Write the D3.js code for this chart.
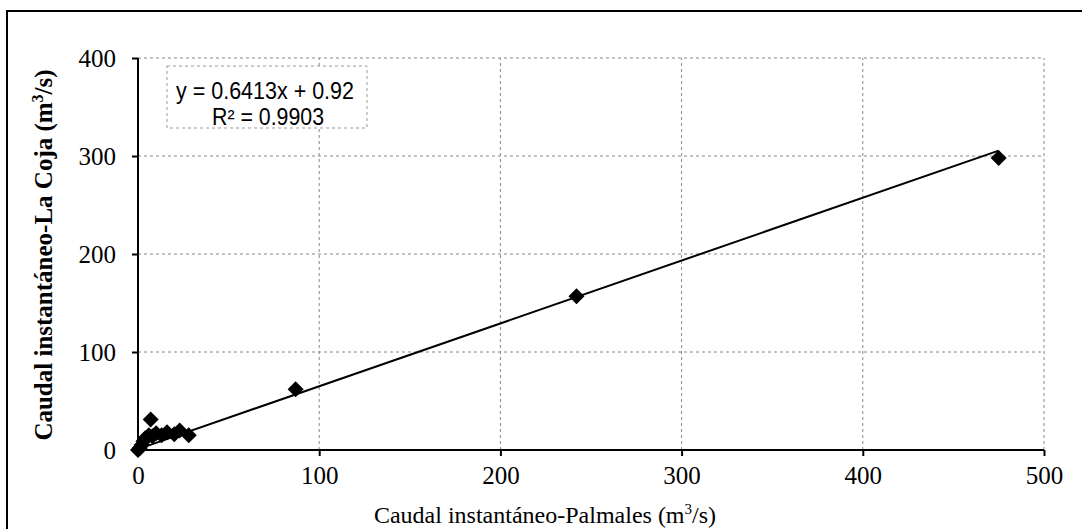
<!DOCTYPE html>
<html><head><meta charset="utf-8">
<script src="https://cdn.jsdelivr.net/npm/d3@7/dist/d3.min.js"></script>
<style>body{margin:0;background:#fff}svg{display:block}</style>
</head><body>
<svg id="c" width="1082" height="529"></svg>
<script>
const xTicks = [0, 100, 200, 300, 400, 500];
const yTicks = [0, 100, 200, 300, 400];
const palmales = [0, 1, 2, 3, 4, 6, 8, 10, 13, 16, 20, 23, 28, 7, 87, 242, 475];
const laCoja   = [0, 2, 5, 9, 12, 15, 14, 17, 15, 18, 16, 20, 15, 31, 62, 157, 298];
const slope = 0.6413, intercept = 0.92;
const eqText = "y = 0.6413x + 0.92";
const r2Text = "R\u00B2 = 0.9903";
const xTitle = "Caudal instantáneo-Palmales (m";
const yTitle = "Caudal instantáneo-La Coja (m";

const svg = d3.select("#c");
const x = d3.scaleLinear().domain([0, 500]).range([138, 1044]);
const y = d3.scaleLinear().domain([0, 400]).range([450, 58]);

// outer frame (left and top edges)
svg.append("path").attr("d", "M7,529 L7,11 L1082,11").attr("fill", "none").attr("stroke", "#000").attr("stroke-width", 2);

// grid
const g = svg.append("g");
g.selectAll(".hg").data(yTicks.filter(d => d > 0)).join("line")
  .attr("x1", x(0)).attr("x2", x(500)).attr("y1", d => y(d)).attr("y2", d => y(d))
  .attr("stroke", "#888").attr("stroke-width", 1).attr("stroke-dasharray", "3,3");
g.selectAll(".vg").data(xTicks.filter(d => d > 0)).join("line")
  .attr("y1", y(0)).attr("y2", y(400)).attr("x1", d => x(d)).attr("x2", d => x(d))
  .attr("stroke", "#888").attr("stroke-width", 1).attr("stroke-dasharray", "3,3");

// axes
const xAxis = svg.append("g").attr("transform", `translate(0,${y(0)})`)
  .call(d3.axisBottom(x).tickValues(xTicks).tickSize(6).tickPadding(10).tickFormat(d3.format("d")));
const yAxis = svg.append("g").attr("transform", `translate(${x(0)},0)`)
  .call(d3.axisLeft(y).tickValues(yTicks).tickSize(6).tickPadding(16).tickFormat(d3.format("d")));
[xAxis, yAxis].forEach(a => {
  a.select(".domain").attr("stroke", "#000").attr("stroke-width", 2);
  a.selectAll(".tick line").attr("stroke", "#000").attr("stroke-width", 2);
  a.selectAll(".tick text").attr("fill", "#000").style("font-family", "'Liberation Serif', serif").style("font-size", "25px");
});
xAxis.select(".domain").attr("d", `M${x(0)},0H${x(500)}`);
yAxis.select(".domain").attr("d", `M0,${y(0)}V${y(400)}`);

// markers
const pts = palmales.map((v, i) => [v, laCoja[i]]);
const s = 8;
svg.append("g").selectAll("path").data(pts).join("path")
  .attr("d", d => `M${x(d[0])},${y(d[1]) - s}L${x(d[0]) + s},${y(d[1])}L${x(d[0])},${y(d[1]) + s}L${x(d[0]) - s},${y(d[1])}Z`)
  .attr("fill", "#000");

// trendline
const xmin = d3.min(palmales), xmax = d3.max(palmales);
svg.append("line")
  .attr("x1", x(xmin)).attr("y1", y(slope * xmin + intercept))
  .attr("x2", x(xmax)).attr("y2", y(slope * xmax + intercept))
  .attr("stroke", "#000").attr("stroke-width", 2);

// equation box
svg.append("rect").attr("x", 167).attr("y", 66).attr("width", 200).attr("height", 62)
  .attr("fill", "#fff").attr("stroke", "#999").attr("stroke-width", 1).attr("stroke-dasharray", "3,3");
svg.append("text").attr("x", 265).attr("y", 99).attr("text-anchor", "middle")
  .style("font-family", "'Liberation Sans', Arial, sans-serif").style("font-size", "23px")
  .attr("textLength", 178).attr("lengthAdjust", "spacingAndGlyphs").text(eqText);
svg.append("text").attr("x", 268).attr("y", 125).attr("text-anchor", "middle")
  .style("font-family", "'Liberation Sans', Arial, sans-serif").style("font-size", "23px")
  .attr("textLength", 112).attr("lengthAdjust", "spacingAndGlyphs").text(r2Text);

// axis titles
const xt = svg.append("text").attr("x", 545).attr("y", 523).attr("text-anchor", "middle")
  .style("font-family", "'Liberation Serif', serif").style("font-size", "24px");
xt.append("tspan").text(xTitle);
xt.append("tspan").attr("dy", -9).style("font-size", "15px").text("3");
xt.append("tspan").attr("dy", 9).text("/s)");

const yt = svg.append("text").attr("transform", "translate(52,255) rotate(-90)").attr("text-anchor", "middle")
  .style("font-family", "'Liberation Serif', serif").style("font-size", "25px").style("font-weight", "bold");
yt.append("tspan").text(yTitle);
yt.append("tspan").attr("dy", -9).style("font-size", "16px").text("3");
yt.append("tspan").attr("dy", 9).text("/s)");
</script>
</body></html>
